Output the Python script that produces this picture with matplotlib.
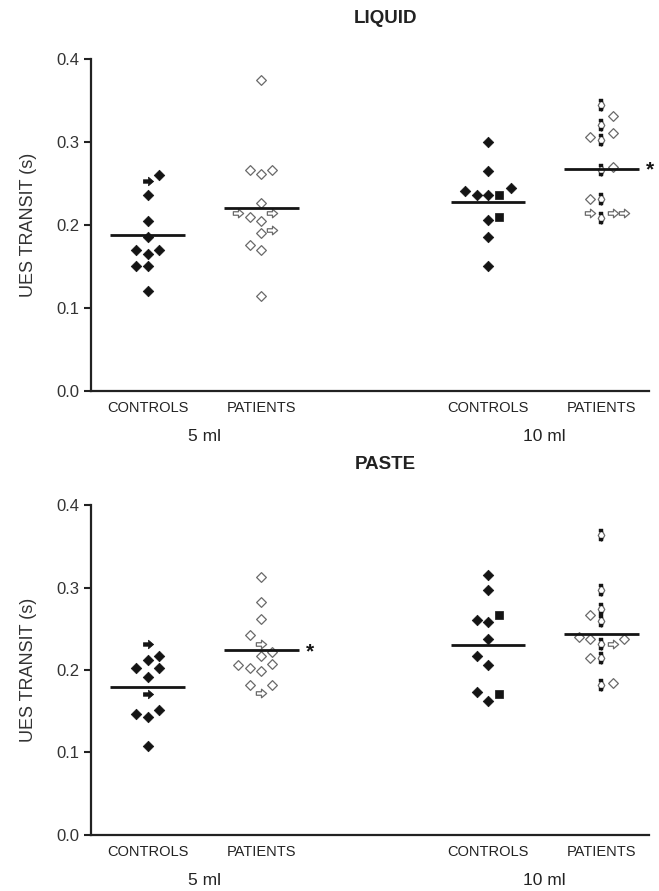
import matplotlib
matplotlib.use("Agg")
import matplotlib.pyplot as plt
from matplotlib.path import Path

plt.rcParams['font.family'] = ['Liberation Sans', 'DejaVu Sans']

# ---------------- data ----------------
group_labels = ["CONTROLS", "PATIENTS", "CONTROLS", "PATIENTS"]
volume_labels = ["5 ml", "10 ml"]
panel_titles = ["LIQUID", "PASTE"]
yticks = [0.0, 0.1, 0.2, 0.3, 0.4]

# LIQUID
liq_5_ctrl = [0.260, 0.253, 0.236, 0.205, 0.185, 0.170, 0.165, 0.170, 0.150, 0.150, 0.121]
liq_5_pat = [0.375, 0.266, 0.261, 0.266, 0.227, 0.214, 0.210, 0.214, 0.205, 0.190, 0.194, 0.176, 0.170, 0.114]
liq_10_ctrl = [0.300, 0.265, 0.241, 0.236, 0.236, 0.236, 0.245, 0.206, 0.210, 0.185, 0.150]
liq_10_pat = [0.345, 0.331, 0.321, 0.306, 0.302, 0.311, 0.270, 0.266, 0.231, 0.231, 0.214, 0.214, 0.214, 0.208]
liq_means = [0.188, 0.221, 0.228, 0.2675]

# PASTE
pas_5_ctrl = [0.232, 0.217, 0.212, 0.202, 0.202, 0.191, 0.171, 0.147, 0.143, 0.151, 0.108]
pas_5_pat = [0.313, 0.282, 0.262, 0.243, 0.231, 0.222, 0.217, 0.206, 0.203, 0.199, 0.207, 0.182, 0.182, 0.172]
pas_10_ctrl = [0.315, 0.297, 0.267, 0.261, 0.258, 0.237, 0.217, 0.206, 0.173, 0.163, 0.171]
pas_10_pat = [0.3635, 0.297, 0.274, 0.267, 0.259, 0.240, 0.238, 0.232, 0.232, 0.238, 0.214, 0.214, 0.182, 0.184]
pas_means = [0.1795, 0.224, 0.230, 0.244]

# horizontal jitter columns (layout) and marker kinds (style), per point
liq_cols = [[1, 0, 0, 0, 0, -1, 0, 1, -1, 0, 0],
            [0, -1, 0, 1, 0, -2, -1, 1, 0, 0, 1, -1, 0, 0],
            [0, 0, -2, -1, 0, 1, 2, 0, 1, 0, 0],
            [0, 1, 0, -1, 0, 1, 1, 0, -1, 0, -1, 1, 2, 0]]
liq_kinds = ["DADDDDDDDDD",
             "dddddadaddaddd",
             "DDDDDsDDsDD",
             "FdFdFddFdFaaaF"]
pas_cols = [[0, 1, 0, -1, 1, 0, 0, -1, 0, 1, 0],
            [0, 0, 0, -1, 0, 1, 0, -2, -1, 0, 1, -1, 1, 0],
            [0, 0, 1, -1, 0, 0, -1, 0, -1, 0, 1],
            [0, 0, 0, -1, 0, -2, -1, 0, 1, 2, -1, 0, 0, 1]]
pas_kinds = ["ADDDDDADDDD",
             "ddddadddddddda",
             "DDsDDDDDDDs",
             "FFFdFddFaddFFd"]
star_groups = [3, 1]  # group marked with an asterisk in each panel

# ---------------- markers ----------------
diamond = Path([(0, 0.5), (0.5, 0), (0, -0.5), (-0.5, 0), (0, 0.5)],
               [Path.MOVETO, Path.LINETO, Path.LINETO, Path.LINETO, Path.CLOSEPOLY])
arrow = Path([(-0.5, -0.17), (0.0, -0.17), (0.0, -0.42), (0.5, 0.0), (0.0, 0.42),
              (0.0, 0.17), (-0.5, 0.17), (-0.5, -0.17)],
             [Path.MOVETO] + [Path.LINETO] * 6 + [Path.CLOSEPOLY])
square = Path([(-0.5, -0.5), (0.5, -0.5), (0.5, 0.5), (-0.5, 0.5), (-0.5, -0.5)],
              [Path.MOVETO, Path.LINETO, Path.LINETO, Path.LINETO, Path.CLOSEPOLY])
thin_d = Path([(0, 0.5), (0.28, 0), (0, -0.5), (-0.28, 0), (0, 0.5)],
              [Path.MOVETO, Path.LINETO, Path.LINETO, Path.LINETO, Path.CLOSEPOLY])
caps = Path([(-0.2, 0.3), (0.2, 0.3), (0.2, 0.5), (-0.2, 0.5), (-0.2, 0.3),
             (-0.2, -0.5), (0.2, -0.5), (0.2, -0.3), (-0.2, -0.3), (-0.2, -0.5)],
            [Path.MOVETO, Path.LINETO, Path.LINETO, Path.LINETO, Path.CLOSEPOLY] * 2)

BLACK = '#141414'
GREY = '#6a6a6a'
positions = [1, 2, 4, 5]
col_step = 0.1


def draw_point(ax, x, y, kind, filled):
    if kind in ('D', 'd'):
        if filled:
            ax.plot(x, y, marker=diamond, ms=7.6, mfc=BLACK, mec=BLACK, mew=0.5, ls='none', zorder=3)
        else:
            ax.plot(x, y, marker=diamond, ms=7.0, mfc='white', mec=GREY, mew=0.9, ls='none', zorder=3)
    elif kind == 's':
        ax.plot(x, y, marker=square, ms=5.2, mfc=BLACK, mec=BLACK, mew=0.5, ls='none', zorder=3)
    elif kind in ('A', 'a'):
        if filled:
            ax.plot(x, y, marker=arrow, ms=7.4, mfc=BLACK, mec=BLACK, mew=0.5, ls='none', zorder=3)
        else:
            ax.plot(x, y, marker=arrow, ms=7.4, mfc='white', mec=GREY, mew=0.9, ls='none', zorder=3)
    elif kind == 'F':
        ax.plot(x, y, marker=thin_d, ms=8.4, mfc='white', mec=GREY, mew=0.9, ls='none', zorder=3)
        ax.plot(x, y, marker=caps, ms=8.4, mfc=BLACK, mec=BLACK, mew=0.3, ls='none', zorder=4)


fig = plt.figure(figsize=(6.59, 8.91), dpi=100)
ax_top = fig.add_axes([0.138, 0.5612, 0.847, 0.3726])
ax_bot = fig.add_axes([0.138, 0.0629, 0.847, 0.3703])

panels = [
    (ax_top, [liq_5_ctrl, liq_5_pat, liq_10_ctrl, liq_10_pat], liq_cols, liq_kinds, liq_means),
    (ax_bot, [pas_5_ctrl, pas_5_pat, pas_10_ctrl, pas_10_pat], pas_cols, pas_kinds, pas_means),
]

for pi, (ax, groups, cols, kinds, means) in enumerate(panels):
    for gi, vals in enumerate(groups):
        filled = (gi % 2 == 0)
        for v, c, k in zip(vals, cols[gi], kinds[gi]):
            draw_point(ax, positions[gi] + c * col_step, v, k, filled)
        ax.hlines(means[gi], positions[gi] - 0.33, positions[gi] + 0.33,
                  colors=BLACK, lw=2.0, zorder=5)
    sg = star_groups[pi]
    ax.annotate('*', xy=(positions[sg] + 0.33, means[sg]), xytext=(5, -1),
                textcoords='offset points', ha='left', va='center',
                fontsize=15, fontweight='bold', color=BLACK)

    ax.set_xlim(0.5, 5.42)
    ax.set_ylim(0, 0.4)
    ax.set_yticks(yticks)
    ax.set_yticklabels([f"{t:.1f}" for t in yticks], fontsize=12, color='#333333')
    ax.set_xticks(positions)
    ax.set_xticklabels(group_labels, fontsize=10.5, color='#222222')
    ax.tick_params(axis='x', length=0, pad=7)
    ax.tick_params(axis='y', length=5, width=1.5, color='#222222', pad=3)
    for s in ['top', 'right']:
        ax.spines[s].set_visible(False)
    for s in ['left', 'bottom']:
        ax.spines[s].set_linewidth(1.6)
        ax.spines[s].set_color('#222222')
    ax.set_ylabel("UES TRANSIT (s)", fontsize=13, color='#333333', labelpad=14)
    for vi, vl in enumerate(volume_labels):
        ax.annotate(vl, xy=((positions[2 * vi] + positions[2 * vi + 1]) / 2, 0),
                    xycoords=('data', 'axes fraction'), xytext=(0, -32.5),
                    textcoords='offset points', ha='center', va='center',
                    fontsize=12.5, color='#222222')
    ax.annotate(panel_titles[pi], xy=(0.527, 1), xycoords='axes fraction',
                xytext=(0, 29.5), textcoords='offset points', ha='center', va='center',
                fontsize=13.5, fontweight='bold', color='#222222')

fig.savefig("out.png", dpi=100)
